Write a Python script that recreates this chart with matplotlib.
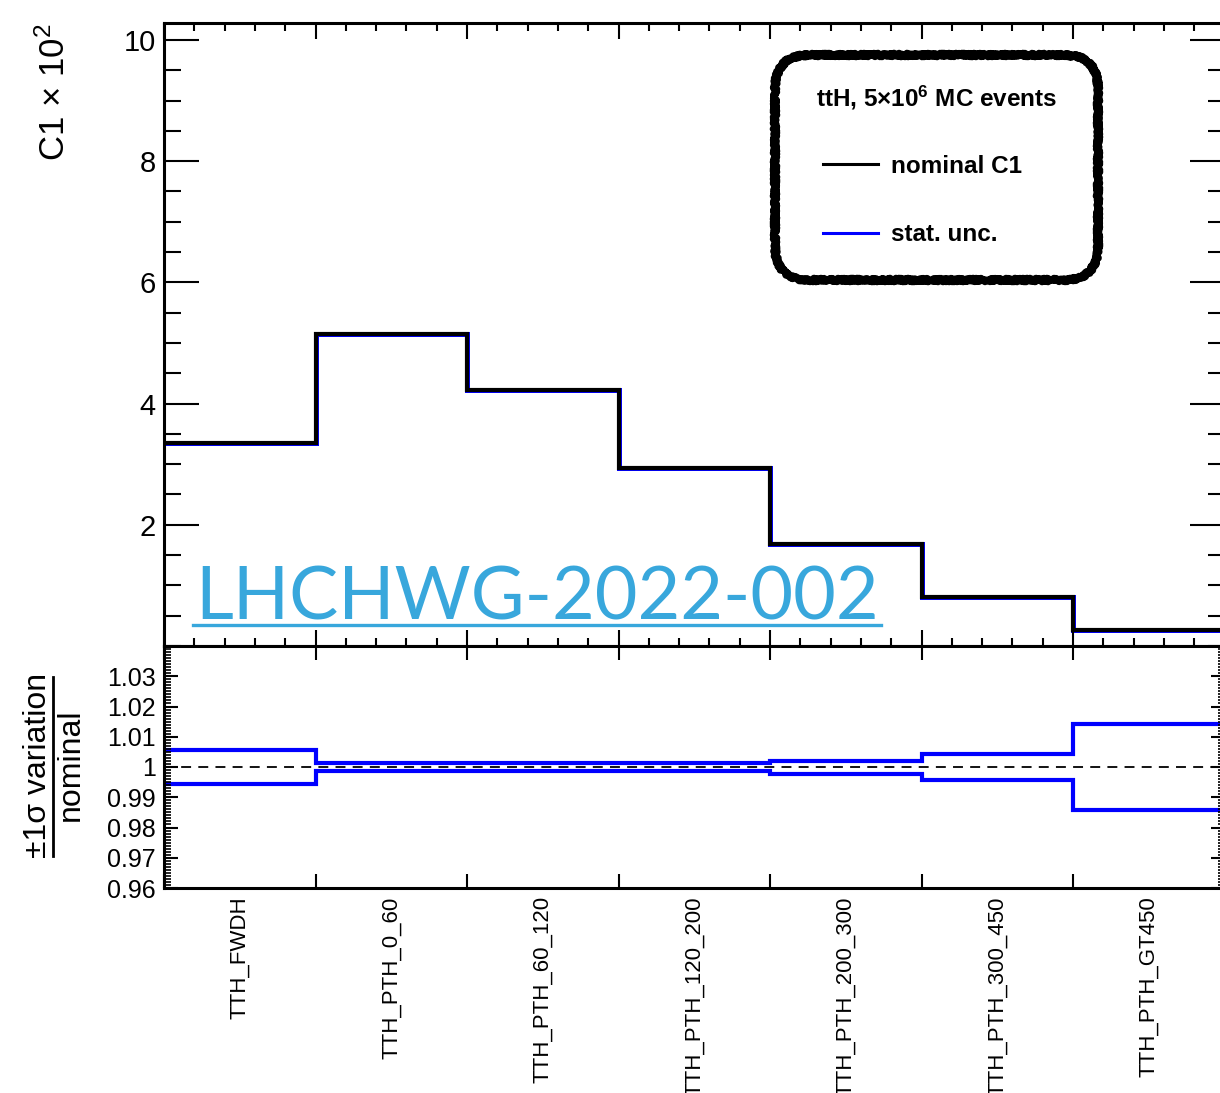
import matplotlib
matplotlib.use("Agg")
import matplotlib.pyplot as plt
from matplotlib.lines import Line2D
from matplotlib.patches import FancyBboxPatch
from matplotlib.transforms import IdentityTransform
from matplotlib.ticker import MultipleLocator, FixedLocator
import numpy as np

plt.rcParams['font.family'] = ['Liberation Sans', 'DejaVu Sans']
plt.rcParams['mathtext.default'] = 'regular'

# STXS bins and C1 values (x 10^2)
bins = ['TTH_FWDH', 'TTH_PTH_0_60', 'TTH_PTH_60_120', 'TTH_PTH_120_200',
        'TTH_PTH_200_300', 'TTH_PTH_300_450', 'TTH_PTH_GT450']
c1_nominal = [3.35, 5.15, 4.23, 2.93, 1.69, 0.81, 0.26]
c1_stat = [3.35, 5.15, 4.23, 2.93, 1.69, 0.81, 0.26]
# +-1 sigma stat. variation / nominal
var_up = [1.0057, 1.0014, 1.0012, 1.0014, 1.0021, 1.0043, 1.0143]
var_down = [0.9944, 0.9987, 0.9988, 0.9988, 0.9978, 0.9956, 0.9858]

W, H = 1220, 1093
fig = plt.figure(figsize=(W / 100, H / 100), dpi=100)

x0, x1 = 164, 1224.5
ax = fig.add_axes([x0 / W, 1 - 646 / H, (x1 - x0) / W, (646 - 23) / H])
axr = fig.add_axes([x0 / W, 1 - 888 / H, (x1 - x0) / W, (888 - 646) / H])

edges = np.arange(len(bins) + 1)
centers = edges[:-1] + 0.5

# upper pad
h_stat = ax.stairs(c1_stat, edges, baseline=None, color='#0000ff', lw=3.6)
h_nom = ax.stairs(c1_nominal, edges, baseline=None, color='black', lw=3.0)
ax.set_xlim(0, len(bins))
ax.set_ylim(0, 10.28)
ax.yaxis.set_major_locator(FixedLocator([2, 4, 6, 8, 10]))
ax.yaxis.set_minor_locator(MultipleLocator(0.5))
ax.xaxis.set_major_locator(FixedLocator(edges))
ax.xaxis.set_minor_locator(MultipleLocator(0.2))
ax.set_xticklabels([])
ax.tick_params(axis='y', which='major', direction='in', length=25, width=1.5,
               labelsize=21, pad=6, left=True, right=True)
ax.tick_params(axis='y', which='minor', direction='in', length=12, width=1.5,
               left=True, right=True)
ax.tick_params(axis='x', which='major', direction='in', length=11.5, width=1.5,
               top=True, bottom=True)
ax.tick_params(axis='x', which='minor', direction='in', length=5.5, width=1.5,
               top=True, bottom=True)
for s in ax.spines.values():
    s.set_linewidth(2.2)

# lower pad
axr.stairs(var_up, edges, baseline=None, color='#0000ff', lw=3.0)
axr.stairs(var_down, edges, baseline=None, color='#0000ff', lw=3.0)
axr.axhline(1.0, color='black', lw=1.3, dashes=(5.5, 4))
axr.set_xlim(0, len(bins))
axr.set_ylim(0.96, 1.04)
axr.yaxis.set_major_locator(FixedLocator([0.96, 0.97, 0.98, 0.99, 1.0, 1.01, 1.02, 1.03]))
axr.yaxis.set_minor_locator(MultipleLocator(0.001))
axr.set_yticklabels(['0.96', '0.97', '0.98', '0.99', '1', '1.01', '1.02', '1.03'])
axr.xaxis.set_major_locator(FixedLocator(edges))
axr.xaxis.set_minor_locator(FixedLocator(centers))
axr.set_xticklabels([], minor=False)
axr.set_xticklabels(bins, minor=True, rotation=90, va='top', ha='center', fontsize=16)
axr.tick_params(axis='y', which='major', direction='in', length=10, width=1.5,
                labelsize=18, pad=6, left=True, right=True)
axr.tick_params(axis='y', which='minor', direction='in', length=5, width=1.2,
                left=True, right=True)
axr.tick_params(axis='x', which='major', direction='in', length=10, width=1.5,
                top=True, bottom=True)
axr.tick_params(axis='x', which='minor', length=0, pad=6)
for s in axr.spines.values():
    s.set_linewidth(2.2)

# axis titles
fig.text(55 / W, 1 - 24 / H, 'C1 × 10$^{2}$', rotation=90, ha='center', va='top',
         fontsize=25)
fig.text(38 / W, 1 - 765 / H, '±1σ variation', rotation=90, ha='center', va='center',
         fontsize=23)
fig.text(71 / W, 1 - 765 / H, 'nominal', rotation=90, ha='center', va='center',
         fontsize=23)
fig.add_artist(Line2D([53 / W, 53 / W], [1 - 677 / H, 1 - 856 / H], color='black',
                      lw=2.0, transform=fig.transFigure))

# legend box, drawn in pixel units so the corners stay round
box = FancyBboxPatch((775, H - 280), 323, 225, boxstyle='round,pad=0,rounding_size=34',
                     transform=IdentityTransform(), facecolor='white',
                     edgecolor='black', lw=5.5, joinstyle='round', capstyle='round',
                     zorder=4, clip_on=False)
box.set_sketch_params(scale=1.5, length=2.5, randomness=2)
ax.add_artist(box)
ax.text(937 / W, 1 - 98 / H, 'ttH, 5×10$^{6}$ MC events', ha='center', va='center',
        fontsize=17.5, weight='bold', zorder=6, transform=fig.transFigure)
leg = ax.legend(handles=[Line2D([], [], color='black', lw=2.2),
                         Line2D([], [], color='#0000ff', lw=2.2)],
                labels=['nominal C1', 'stat. unc.'],
                loc='upper left', bbox_to_anchor=(823 / W, 1 - 155 / H),
                bbox_transform=fig.transFigure, borderaxespad=0, borderpad=0,
                prop={'weight': 'bold', 'size': 17.5},
                handlelength=2.26, handletextpad=0.53, labelspacing=1.87,
                frameon=False)
leg.set_zorder(6)

# document reference tag
tag = fig.text(195 / W, 1 - 620 / H, 'LHCHWG-2022-002', family='Lato', fontsize=53,
               color='#38a7dc', ha='left', va='baseline')
fig.canvas.draw()
bb = tag.get_window_extent().transformed(fig.transFigure.inverted())
fig.add_artist(Line2D([bb.x0 - 2 / W, bb.x1 + 2 / W], [1 - 625 / H, 1 - 625 / H],
                      color='#38a7dc', lw=2.4, transform=fig.transFigure))

fig.savefig('out.png', dpi=100)
